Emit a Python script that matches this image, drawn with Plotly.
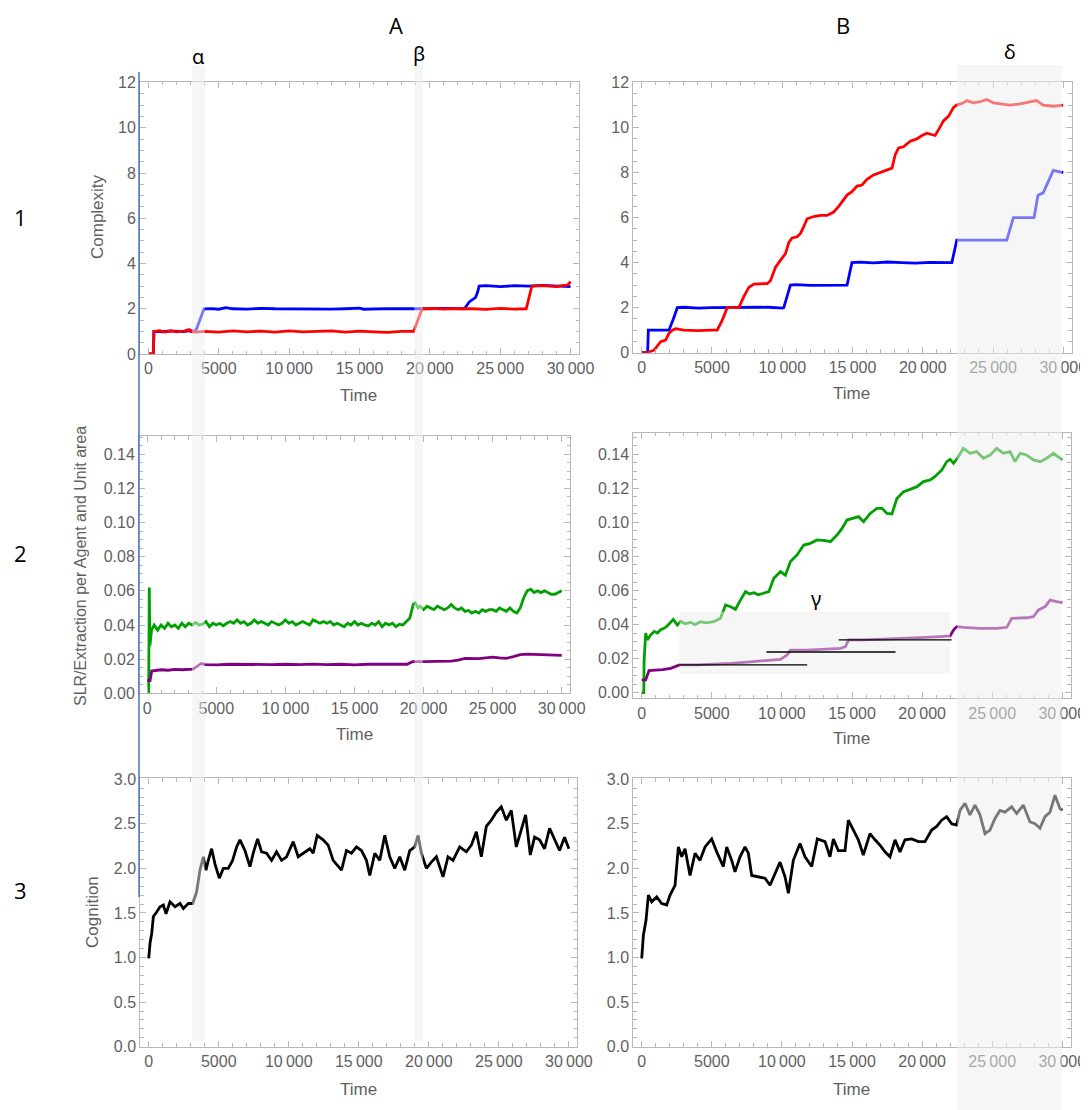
import plotly.graph_objects as go

# ---------------- data ----------------
# Panel A1 : Complexity
A1_BLUE_T = [0, 350, 380, 600, 1000, 1500, 2000, 2500, 3000, 3350, 3650, 3950, 4500, 5000, 5500, 6000, 7000, 8000,
             9000, 10000, 11000, 12000, 13000, 14000, 15000, 15300, 16000, 17000, 18000, 19000, 20000, 21000, 22000,
             22450, 22800, 23000, 23250, 23400, 23500, 24000, 25000, 26000, 27000, 28000, 29000, 30000]
A1_BLUE_V = [0, 0, 1.0, 1.0, 0.98, 1.02, 1.0, 0.99, 1.03, 1.0, 1.5, 2.0, 2.01, 1.98, 2.05, 2.0, 1.98, 2.02,
             2.0, 1.99, 2.01, 2.0, 1.98, 2.0, 2.03, 1.98, 2.0, 2.01, 2.0, 1.99, 2.0, 2.02, 2.0,
             2.0, 2.3, 2.4, 2.5, 2.75, 3.0, 3.02, 2.98, 3.02, 3.0, 3.03, 3.0, 2.98]
A1_RED_T = [0, 340, 400, 800, 1200, 1600, 2000, 2500, 2900, 3000, 3300, 4000, 5000, 6000, 7000, 8000, 9000, 10000,
            11000, 12000, 13000, 14000, 15000, 16000, 17000, 18000, 18850, 19450, 20000, 21000, 22000, 23000, 24000,
            25000, 26000, 26850, 27000, 27250, 28000, 29000, 29500, 29800, 30000]
A1_RED_V = [0, 0, 1.0, 1.03, 0.97, 1.02, 0.98, 1.01, 1.08, 1.0, 0.97, 1.0, 0.97, 1.02, 0.98, 1.01, 0.97, 1.02,
            0.98, 1.0, 1.02, 0.97, 1.01, 0.98, 0.96, 1.0, 1.0, 2.0, 2.02, 1.98, 2.01, 2.0, 1.97,
            2.02, 1.98, 2.0, 2.4, 3.0, 3.02, 2.98, 3.03, 3.05, 3.2]

# Panel B1 : Complexity
B1_RED_T = [0, 400, 880, 1350, 1700, 1940, 2180, 2415, 3000, 4000, 5000, 5370, 5700, 6085, 6500, 6910, 7270, 7620,
            7980, 8500, 8930, 9160, 9520, 9870, 10230, 10470, 10700, 11060, 11300, 11530, 11770, 12240, 12720, 13190,
            13660, 14020, 14370, 14610, 14960, 15320, 15680, 16030, 16500, 16980, 17450, 17810, 18040, 18280, 18630,
            19110, 19580, 19940, 20290, 20650, 20880, 21120, 21470, 21830, 22190, 22420, 22900, 23130, 23600, 24080,
            24550, 25030, 25500, 26210, 26920, 27620, 28100, 28570, 29280, 30000]
B1_RED_V = [0, 0, 0.12, 0.49, 0.56, 0.86, 1.0, 1.07, 1.0, 0.98, 1.0, 1.0, 1.4, 2.0, 2.0, 2.0, 2.5, 2.9,
            3.05, 3.05, 3.07, 3.2, 3.8, 4.1, 4.4, 4.9, 5.1, 5.15, 5.3, 5.6, 5.95, 6.05, 6.1, 6.1,
            6.25, 6.5, 6.8, 7.0, 7.15, 7.4, 7.45, 7.7, 7.9, 8.0, 8.1, 8.2, 8.8, 9.1, 9.15,
            9.4, 9.5, 9.65, 9.75, 9.7, 9.65, 9.9, 10.3, 10.5, 10.9, 11.0, 11.1, 11.2, 11.1, 11.15,
            11.25, 11.1, 11.05, 11.0, 11.05, 11.15, 11.2, 11.0, 10.95, 11.0]
B1_BLUE_T = [0, 420, 470, 1000, 1500, 1940, 2250, 2530, 3000, 4000, 5000, 6000, 7000, 8000, 9000, 10000, 10110,
             10580, 11000, 12000, 13000, 14000, 14610, 14960, 15500, 16500, 17500, 18500, 19500, 20500, 21500, 22070,
             22420, 23000, 24000, 25000, 25980, 26450, 27000, 27920, 28200, 28570, 29290, 30000]
B1_BLUE_V = [0, 0, 1.0, 1.0, 1.0, 1.0, 1.5, 2.0, 2.02, 1.98, 2.0, 2.01, 1.99, 2.0, 2.02, 1.98, 2.0,
             3.0, 3.02, 2.99, 3.0, 3.01, 3.0, 4.0, 4.02, 3.99, 4.03, 4.0, 3.98, 4.01, 4.0, 4.0,
             5.0, 5.0, 5.02, 5.0, 5.0, 6.0, 6.0, 6.0, 7.0, 7.1, 8.1, 8.0]

# Panel A2 : SLR / Extraction
A2_GREEN_T = [0, 100, 145, 190, 310, 500, 750, 1000, 1250, 1500, 1750, 2000, 2250, 2500, 2750, 3000, 3250, 3500,
              3750, 4000, 4250, 4500, 4750, 5000, 5250, 5500, 5750, 6000, 6250, 6500, 6750, 7000, 7250, 7500, 7750,
              8000, 8250, 8500, 8750, 9000, 9250, 9500, 9750, 10000, 10250, 10500, 10750, 11000, 11250, 11500, 11750,
              12000, 12250, 12500, 12750, 13000, 13250, 13500, 13750, 14000, 14250, 14500, 14750, 15000, 15250, 15500,
              15750, 16000, 16250, 16500, 16750, 17000, 17250, 17500, 17750, 18000, 18250, 18500, 18750, 19000, 19250,
              19400, 19600, 19750, 20000, 20250, 20500, 20750, 21000, 21250, 21500, 21750, 22000, 22250, 22500, 22750,
              23000, 23250, 23500, 23750, 24000, 24250, 24500, 24750, 25000, 25250, 25500, 25750, 26000, 26250, 26500,
              26750, 27000, 27250, 27500, 27750, 28000, 28250, 28500, 28750, 29000, 29250, 29500, 29750, 30000]
A2_GREEN_V = [0.0, 0.0, 0.062, 0.028, 0.037, 0.040, 0.037, 0.040, 0.038, 0.041, 0.039, 0.040, 0.038, 0.041, 0.039,
              0.041, 0.040, 0.0415, 0.040, 0.0405, 0.042, 0.039, 0.041, 0.040, 0.041, 0.0395, 0.041, 0.042, 0.041,
              0.043, 0.041, 0.042, 0.040, 0.041, 0.043, 0.041, 0.042, 0.041, 0.040, 0.042, 0.041, 0.040, 0.041, 0.043,
              0.041, 0.042, 0.040, 0.041, 0.042, 0.041, 0.040, 0.043, 0.042, 0.041, 0.042, 0.041, 0.042, 0.040, 0.041,
              0.040, 0.039, 0.041, 0.040, 0.042, 0.040, 0.041, 0.040, 0.0395, 0.041, 0.040, 0.042, 0.039, 0.041, 0.040,
              0.041, 0.039, 0.0405, 0.040, 0.042, 0.044, 0.052, 0.053, 0.050, 0.051, 0.049, 0.051, 0.050, 0.049,
              0.051, 0.050, 0.049, 0.050, 0.052, 0.050, 0.049, 0.050, 0.048, 0.0485, 0.047, 0.048, 0.047, 0.049,
              0.048, 0.049, 0.049, 0.048, 0.050, 0.049, 0.048, 0.050, 0.048, 0.047, 0.050, 0.056, 0.060, 0.061,
              0.059, 0.060, 0.059, 0.060, 0.059, 0.058, 0.058, 0.059, 0.060]
A2_PURPLE_T = [0, 200, 320, 600, 1000, 1500, 2000, 2500, 3000, 3300, 3600, 3900, 4200, 5000, 6000, 7000, 8000, 9000,
               10000, 11000, 12000, 13000, 14000, 15000, 16000, 17000, 18000, 18800, 19200, 20000, 21000, 22000,
               22500, 23000, 24000, 25000, 25500, 26000, 26500, 27000, 27500, 28000, 29000, 30000]
A2_PURPLE_V = [0.0075, 0.0075, 0.013, 0.0135, 0.0138, 0.0135, 0.014, 0.0138, 0.014, 0.0142, 0.0158, 0.0175, 0.0168,
               0.0166, 0.0170, 0.0168, 0.0170, 0.0168, 0.0170, 0.0168, 0.0171, 0.0168, 0.0170, 0.0167, 0.0170, 0.0168,
               0.0170, 0.0170, 0.0185, 0.0186, 0.0185, 0.0188, 0.0195, 0.0205, 0.0203, 0.0212, 0.0208, 0.0205, 0.0215,
               0.0226, 0.0230, 0.0228, 0.0225, 0.0222]

# Panel B2 : SLR / Extraction
B2_GREEN_T = [0, 150, 170, 285, 400, 640, 900, 1115, 1350, 1590, 1800, 2065, 2250, 2540, 2780, 3100, 3490, 3800, 4200,
              4600, 5150, 5620, 5980, 6340, 6690, 7050, 7400, 7700, 8000, 8300, 8590, 9070, 9420, 9900, 10250, 10610,
              11080, 11560, 12030, 12510, 13100, 13460, 13930, 14290, 14640, 15000, 15470, 15830, 16300, 16780, 17140,
              17490, 17850, 18200, 18680, 19150, 19630, 20100, 20580, 20930, 21410, 21760, 22000, 22240, 22520, 22940,
              23420, 23900, 24370, 24850, 25320, 25800, 26280, 26630, 26990, 27460, 27940, 28420, 28890, 29370, 30000]
B2_GREEN_V = [0.0, 0.0, 0.019, 0.035, 0.031, 0.034, 0.036, 0.035, 0.037, 0.0378, 0.039, 0.0417, 0.043, 0.0397, 0.042,
              0.0405, 0.0413, 0.040, 0.0417, 0.041, 0.0417, 0.0437, 0.0515, 0.0505, 0.049, 0.0545, 0.0593, 0.058,
              0.0587, 0.0575, 0.0583, 0.0593, 0.0672, 0.0711, 0.069, 0.077, 0.0809, 0.0867, 0.0877, 0.0897, 0.0893,
              0.0887, 0.0926, 0.0965, 0.1014, 0.1024, 0.1034, 0.1004, 0.1053, 0.1083, 0.1083, 0.1053, 0.105, 0.114,
              0.118, 0.1194, 0.121, 0.124, 0.125, 0.127, 0.1308, 0.1357, 0.137, 0.1347, 0.1377, 0.1435, 0.1406,
              0.1416, 0.1377, 0.1396, 0.1435, 0.1406, 0.1416, 0.1357, 0.1406, 0.1396, 0.1367, 0.1357, 0.1377, 0.1406,
              0.1367]
B2_PURPLE_T = [0, 285, 520, 1000, 1500, 2065, 2420, 2700, 3960, 5150, 6340, 7520, 8710, 9900, 10370, 10610, 11800,
               12740, 14170, 14530, 14760, 15830, 17020, 18440, 19870, 21290, 22000, 22240, 22470, 22940, 24130, 25320,
               26040, 26390, 27460, 27940, 28300, 28770, 29130, 29600, 30000]
B2_PURPLE_V = [0.0075, 0.0075, 0.013, 0.0133, 0.0135, 0.0143, 0.0153, 0.0163, 0.0163, 0.0166, 0.0172, 0.018, 0.019,
               0.0196, 0.0221, 0.025, 0.025, 0.0255, 0.026, 0.027, 0.031, 0.031, 0.0313, 0.0317, 0.0323, 0.0329,
               0.0333, 0.0368, 0.0388, 0.0384, 0.0378, 0.0378, 0.0384, 0.0437, 0.044, 0.0446, 0.0486, 0.0505, 0.0544,
               0.0535, 0.0529]

# Panel A3 : Cognition
A3_T = [0, 95, 214, 333, 570, 808, 1046, 1236, 1521, 1878, 2235, 2472, 2829, 3138, 3423, 3661, 3899, 4089, 4255, 4493,
        4730, 5040, 5325, 5681, 5990, 6276, 6513, 6870, 7227, 7464, 7773, 8059, 8415, 8772, 9128, 9485, 9841, 10317,
        10673, 11030, 11505, 11743, 12028, 12456, 12813, 13169, 13526, 13764, 14120, 14477, 14833, 15190, 15546,
        15784, 16141, 16497, 16854, 17210, 17567, 17924, 18280, 18637, 18993, 19231, 19469, 19826, 20182, 20539,
        21014, 21371, 21727, 22203, 22678, 23035, 23391, 23748, 24104, 24461, 24818, 25174, 25531, 25887, 26244,
        26600, 26909, 27242, 27551, 27908, 28264, 28621, 28977, 29334, 29690, 30000]
A3_V = [0.99, 1.16, 1.27, 1.46, 1.51, 1.57, 1.59, 1.49, 1.625, 1.57, 1.606, 1.55, 1.606, 1.606, 1.737, 1.98, 2.13,
        1.98, 2.09, 2.22, 2.05, 1.89, 2.0, 2.0, 2.09, 2.24, 2.32, 2.2, 2.02, 2.17, 2.33, 2.185, 2.17, 2.09, 2.185,
        2.09, 2.13, 2.3, 2.13, 2.17, 2.22, 2.17, 2.37, 2.32, 2.26, 2.09, 2.02, 1.98, 2.2, 2.17, 2.24, 2.2, 2.09,
        1.92, 2.17, 2.09, 2.37, 2.13, 2.0, 2.13, 1.98, 2.2, 2.24, 2.37, 2.17, 2.0, 2.07, 2.13, 1.905, 2.13, 2.09,
        2.24, 2.185, 2.26, 2.41, 2.13, 2.47, 2.54, 2.63, 2.69, 2.54, 2.65, 2.24, 2.43, 2.6, 2.15, 2.35, 2.32, 2.22,
        2.45, 2.32, 2.2, 2.35, 2.22]

# Panel B3 : Cognition
B3_T = [0, 119, 309, 475, 713, 1070, 1426, 1783, 2021, 2377, 2615, 2853, 3090, 3447, 3804, 4160, 4517, 4992, 5349,
        5824, 6062, 6418, 6656, 7013, 7369, 7607, 7845, 8320, 8796, 9152, 9627, 9865, 10222, 10460, 10816, 11292,
        11648, 12124, 12528, 13074, 13431, 13669, 14025, 14501, 14738, 15095, 15452, 15808, 16284, 16640, 16997,
        17353, 17710, 18067, 18423, 18780, 19255, 19731, 20206, 20682, 21039, 21395, 21752, 22108, 22465, 22703,
        23060, 23416, 23773, 24130, 24486, 24843, 25200, 25556, 25913, 26388, 26745, 27220, 27696, 28052, 28409,
        28765, 29122, 29479, 29835, 30000]
B3_V = [0.99, 1.25, 1.42, 1.70, 1.625, 1.68, 1.606, 1.59, 1.70, 1.81, 2.24, 2.13, 2.22, 1.92, 2.17, 2.09, 2.24,
        2.33, 2.185, 2.02, 2.24, 2.09, 1.96, 2.13, 2.24, 2.17, 1.92, 1.905, 1.89, 1.81, 1.98, 2.07, 1.905, 1.72,
        2.09, 2.28, 2.13, 2.02, 2.33, 2.3, 2.13, 2.33, 2.2, 2.2, 2.54, 2.43, 2.32, 2.15, 2.39, 2.32, 2.26, 2.185,
        2.13, 2.32, 2.185, 2.32, 2.33, 2.3, 2.3, 2.43, 2.47, 2.54, 2.58, 2.5, 2.485, 2.65, 2.73, 2.6, 2.71, 2.6,
        2.39, 2.43, 2.56, 2.65, 2.63, 2.69, 2.615, 2.71, 2.52, 2.5, 2.45, 2.58, 2.63, 2.82, 2.67, 2.65]

# Highlighted time windows and reference lines
ALPHA_BAND = [3100, 4000]
BETA_BAND = [18900, 19500]
DELTA_BAND = [22450, 29900]
GAMMA_BOX_T = [2700, 22000]
GAMMA_BOX_Y = [0.011, 0.0476]
GAMMA_LINE_T0 = [2700, 8900, 14050]
GAMMA_LINE_T1 = [11800, 18100, 22100]
GAMMA_LINE_Y = [0.0163, 0.0239, 0.0310]

X_TICKS = [0, 5000, 10000, 15000, 20000, 25000, 30000]
X_TICK_TEXT = ["0", "5000", "10\u2009000", "15\u2009000", "20\u2009000", "25\u2009000", "30\u2009000"]

for a, b in [(A1_BLUE_T, A1_BLUE_V), (A1_RED_T, A1_RED_V), (B1_RED_T, B1_RED_V), (B1_BLUE_T, B1_BLUE_V),
             (A2_GREEN_T, A2_GREEN_V), (A2_PURPLE_T, A2_PURPLE_V), (B2_GREEN_T, B2_GREEN_V),
             (B2_PURPLE_T, B2_PURPLE_V), (A3_T, A3_V), (B3_T, B3_V)]:
    assert len(a) == len(b), (len(a), len(b))

# ---------------- layout geometry ----------------
# the page places the figure 8 px in from the top-left corner (default body margin)
OFF = 8
W, H = 1088 - OFF, 1110 - OFF


def fx(p):
    return (p - OFF) / W


def fy(p):
    return 1 - (p - OFF) / H


FRAME = "#b8b8b8"
TICKFONT = dict(family="Liberation Sans, Arial, sans-serif", size=16, color="#5f5f5f")
TITLEFONT = dict(family="Liberation Sans, Arial, sans-serif", size=17, color="#5f5f5f")
LABELFONT = dict(family="Open Sans, Noto Sans, sans-serif", size=22, color="black")
GREEKFONT = dict(family="Noto Sans, Open Sans, sans-serif", size=20, color="black")

# panel id -> (x pixel span, y pixel span (top,bottom), y range, y dtick, y minor, y format)
PANELS = {
    1: ((140, 579), (81.7, 354.0), [0, 12.04], 2, 0.5, "d"),
    2: ((633.3, 1071.7), (81.7, 352.7), [0, 12.04], 2, 0.5, "d"),
    3: ((139, 570), (436.0, 693.3), [0, 0.1507], 0.02, 0.005, ".2f"),
    4: ((633.3, 1070.7), (432.7, 698.3), [-0.0033, 0.1527], 0.02, 0.005, ".2f"),
    5: ((140.3, 577.3), (778.3, 1046.7), [0, 3.01], 0.5, 0.1, ".1f"),
    6: ((633.3, 1070.7), (778.3, 1046.7), [0, 3.01], 0.5, 0.1, ".1f"),
}

fig = go.Figure()

layout = dict(width=W, height=H, autosize=False,
              margin=dict(l=0, r=0, t=0, b=0, pad=0, autoexpand=False), paper_bgcolor="white",
              plot_bgcolor="rgba(0,0,0,0)", showlegend=False)

for i, (xs, ys, yr, dt, mn, fmt) in PANELS.items():
    sfx = "" if i == 1 else str(i)
    layout["xaxis" + sfx] = dict(
        domain=[fx(xs[0]), fx(xs[1])], anchor="y" + sfx, range=[-600, 30600], automargin=False,
        tickmode="array", tickvals=X_TICKS, ticktext=X_TICK_TEXT, ticks="inside", ticklen=6,
        tickcolor=FRAME, tickwidth=1, showline=True, linecolor=FRAME, linewidth=1, mirror="ticks",
        showgrid=False, zeroline=False, tickfont=TICKFONT,
        minor=dict(tickmode="linear", tick0=0, dtick=1000, ticks="inside", ticklen=3.5, tickcolor=FRAME,
                   showgrid=False))
    layout["yaxis" + sfx] = dict(
        domain=[fy(ys[1]), fy(ys[0])], anchor="x" + sfx, range=yr, tickmode="linear", tick0=0, dtick=dt,
        tickformat=fmt, ticks="inside", ticklen=6, tickcolor=FRAME, tickwidth=1, showline=True, automargin=False,
        linecolor=FRAME, linewidth=1, mirror="ticks", showgrid=False, zeroline=False, tickfont=TICKFONT,
        minor=dict(tickmode="linear", tick0=0, dtick=mn, ticks="inside", ticklen=3.5, tickcolor=FRAME,
                   showgrid=False))


def add(t, v, color, panel, width=2.8):
    sfx = "" if panel == 1 else str(panel)
    fig.add_trace(go.Scatter(x=t, y=v, mode="lines", line=dict(color=color, width=width),
                             xaxis="x" + sfx, yaxis="y" + sfx, hoverinfo="skip"))


RED, BLUE, GREEN, PURPLE, BLACK = "#ff0000", "#0000ff", "#00a000", "#800080", "#000000"
add(A1_BLUE_T, A1_BLUE_V, BLUE, 1)
add(A1_RED_T, A1_RED_V, RED, 1)
add(B1_BLUE_T, B1_BLUE_V, BLUE, 2)
add(B1_RED_T, B1_RED_V, RED, 2)
add(A2_GREEN_T, A2_GREEN_V, GREEN, 3)
add(A2_PURPLE_T, A2_PURPLE_V, PURPLE, 3)
add(B2_GREEN_T, B2_GREEN_V, GREEN, 4)
add(B2_PURPLE_T, B2_PURPLE_V, PURPLE, 4)
add(A3_T, A3_V, BLACK, 5)
add(B3_T, B3_V, BLACK, 6)

SHADE = "rgba(238,238,238,0.5)"
shapes = [
    dict(type="rect", xref="x", yref="paper", x0=ALPHA_BAND[0], x1=ALPHA_BAND[1], y0=fy(1041), y1=fy(65),
         fillcolor=SHADE, line=dict(width=0), layer="above"),
    dict(type="rect", xref="x", yref="paper", x0=BETA_BAND[0], x1=BETA_BAND[1], y0=fy(1041), y1=fy(65),
         fillcolor=SHADE, line=dict(width=0), layer="above"),
    dict(type="rect", xref="x2", yref="paper", x0=DELTA_BAND[0], x1=DELTA_BAND[1], y0=0, y1=fy(65),
         fillcolor=SHADE, line=dict(width=0), layer="above"),
    dict(type="rect", xref="x4", yref="y4", x0=GAMMA_BOX_T[0], x1=GAMMA_BOX_T[1], y0=GAMMA_BOX_Y[0],
         y1=GAMMA_BOX_Y[1], fillcolor=SHADE, line=dict(width=0), layer="above"),
]
for t0, t1, yv in zip(GAMMA_LINE_T0, GAMMA_LINE_T1, GAMMA_LINE_Y):
    shapes.append(dict(type="line", xref="x4", yref="y4", x0=t0, x1=t1, y0=yv, y1=yv,
                       line=dict(color="black", width=1.3), layer="above"))
# thin blue cursor line at the left edge of column A
shapes.append(dict(type="line", xref="paper", yref="paper", x0=fx(139), x1=fx(139), y0=fy(897), y1=fy(72),
                   line=dict(color="#4472c4", width=1.5), layer="above"))
layout["shapes"] = shapes

ann = []
for txt, x in [("A", 396), ("B", 843)]:
    ann.append(dict(text=txt, x=fx(x), y=1, xref="paper", yref="paper", showarrow=False, font=LABELFONT,
                    xanchor="center", yanchor="top"))
for txt, x, y in [("1", 20, 217), ("2", 20, 553), ("3", 20, 890)]:
    ann.append(dict(text=txt, x=fx(x), y=fy(y), xref="paper", yref="paper", showarrow=False, font=LABELFONT,
                    xanchor="center", yanchor="middle"))
ann.append(dict(text="α", x=sum(ALPHA_BAND) / 2, y=fy(56), xref="x", yref="paper", showarrow=False,
                font=GREEKFONT, xanchor="center", yanchor="middle"))
ann.append(dict(text="β", x=sum(BETA_BAND) / 2, y=fy(53), xref="x", yref="paper", showarrow=False,
                font=GREEKFONT, xanchor="center", yanchor="middle"))
ann.append(dict(text="δ", x=sum(DELTA_BAND) / 2, y=fy(52), xref="x2", yref="paper", showarrow=False,
                font=GREEKFONT, xanchor="center", yanchor="middle"))
ann.append(dict(text="γ", x=12400, y=fy(598), xref="x4", yref="paper", showarrow=False,
                font=GREEKFONT, xanchor="center", yanchor="middle"))
# axis titles
for x, y in [(358, 395), (851, 393), (354, 735), (851, 738), (358, 1089), (851, 1089)]:
    ann.append(dict(text="Time", x=fx(x), y=fy(y), xref="paper", yref="paper", showarrow=False, font=TITLEFONT,
                    xanchor="center", yanchor="middle"))
ann.append(dict(text="Complexity", x=fx(97), y=fy(217), xref="paper", yref="paper", showarrow=False,
                font=TITLEFONT, textangle=-90, xanchor="center", yanchor="middle"))
ann.append(dict(text="SLR/Extraction per Agent and Unit area", x=fx(80), y=fy(566), xref="paper", yref="paper",
                showarrow=False, font=dict(TITLEFONT, size=16), textangle=-90, xanchor="center", yanchor="middle"))
ann.append(dict(text="Cognition", x=fx(92), y=fy(912), xref="paper", yref="paper", showarrow=False,
                font=TITLEFONT, textangle=-90, xanchor="center", yanchor="middle"))
layout["annotations"] = ann

fig.update_layout(**layout)
fig.write_html("out.html")
